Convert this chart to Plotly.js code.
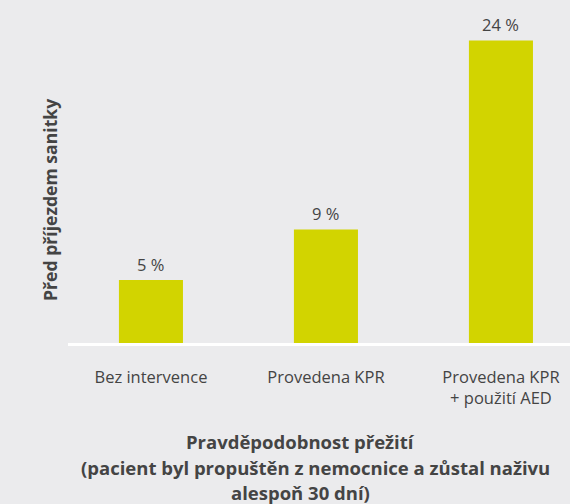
<!DOCTYPE html>
<html><head><meta charset="utf-8">
<script src="https://cdn.plot.ly/plotly-3.0.1.min.js"></script>
<style>html,body{margin:0;padding:0;background:#ebebed;}</style>
</head><body><div id="c" style="width:570px;height:504px;"></div>
<script>
const categories = ["Bez intervence", "Provedena KPR", "Provedena KPR<br>+ použití AED"];
const values = [5, 9, 24];
const valueLabels = ["5 %", "9 %", "24 %"];
const yTitle = "Před příjezdem sanitky";
const xTitleLines = ["Pravděpodobnost přežití", "(pacient byl propuštěn z nemocnice a zůstal naživu", "alespoň 30 dní)"];

const W = 570, H = 504, L = 68, R = 0, T = 10, B = 161;
const pw = W - L - R, ph = H - T - B;
const px = x => (x - L) / pw;
const py = y => (H - B - y) / ph;
const FONT = "Open Sans, sans-serif";
const TXT = "#444444";

const data = [{
  type: "bar",
  x: [0, 1, 2],
  y: values,
  width: [0.366, 0.366, 0.366],
  marker: {color: "#d2d400"},
  hoverinfo: "skip"
}];

const valueAnn = values.map((v, i) => ({
  text: valueLabels[i], x: i, y: v, xref: "x", yref: "y",
  yshift: 16, yanchor: "middle", xanchor: "center", showarrow: false,
  font: {family: FONT, size: 16.5, color: TXT}
}));

const layout = {
  width: W, height: H,
  margin: {l: L, r: R, t: T, b: B, pad: 0},
  paper_bgcolor: "#ebebed",
  plot_bgcolor: "#ebebed",
  showlegend: false,
  font: {family: FONT, color: TXT},
  xaxis: {
    range: [-0.474, -0.474 + pw / 175],
    tickvals: [0, 1, 2],
    ticktext: categories,
    tickfont: {family: FONT, size: 16.5, color: TXT},
    ticks: "outside", ticklen: 17, tickcolor: "rgba(0,0,0,0)",
    showline: true, linecolor: "#ffffff", linewidth: 3,
    showgrid: false, zeroline: false, fixedrange: true
  },
  yaxis: {
    range: [0, ph / 12.6],
    showticklabels: false, ticks: "", showgrid: false, zeroline: false, showline: false, fixedrange: true
  },
  annotations: valueAnn.concat([
    {text: "<b>" + yTitle + "</b>", xref: "paper", yref: "paper", x: px(50), y: py(200),
     xanchor: "center", yanchor: "middle", textangle: -90, showarrow: false,
     font: {family: FONT, size: 17.6, color: TXT}},
    {text: "<b>" + xTitleLines[0] + "</b>", xref: "paper", yref: "paper", x: px(300), y: py(441),
     xanchor: "center", yanchor: "middle", showarrow: false, font: {family: FONT, size: 18.5, color: TXT}},
    {text: "<b>" + xTitleLines[1] + "</b>", xref: "paper", yref: "paper", x: px(79), y: py(467),
     xanchor: "left", yanchor: "middle", showarrow: false, font: {family: FONT, size: 18.5, color: TXT}},
    {text: "<b>" + xTitleLines[2] + "</b>", xref: "paper", yref: "paper", x: px(300), y: py(492),
     xanchor: "center", yanchor: "middle", showarrow: false, font: {family: FONT, size: 18.5, color: TXT}}
  ])
};
Plotly.newPlot("c", data, layout, {displayModeBar: false, staticPlot: true});
</script></body></html>
